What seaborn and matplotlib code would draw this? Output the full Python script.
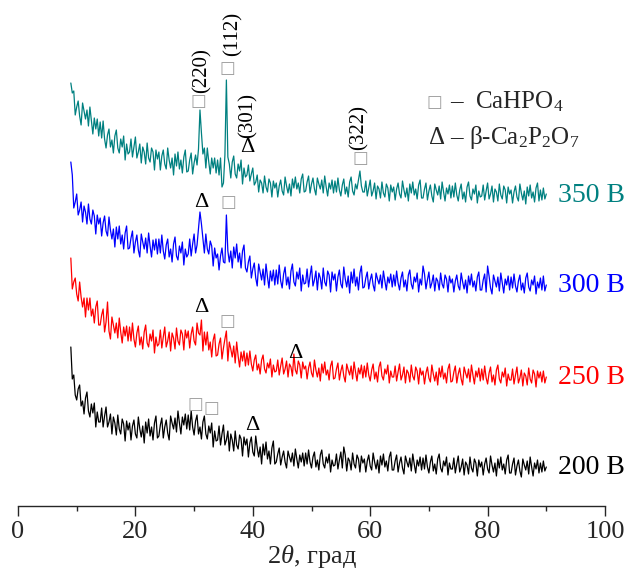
import numpy as np
import pandas as pd
import matplotlib
matplotlib.use("Agg")
import matplotlib.pyplot as plt
import seaborn as sns

# 2theta grid, 0.25 deg step
two_theta = np.arange(9.0, 90.01, 0.25)

# intensities (a.u.), each relative to its own tail
i_200 = [121, 89, 93, 73, 68, 79, 83, 62, 67, 54, 70, 76, 57, 51, 64, 55, 65, 41, 56, 46,
         46, 60, 41, 52, 61, 41, 46, 54, 34, 51, 45, 33, 53, 39, 34, 49, 44, 27, 47, 38,
         45, 28, 42, 48, 34, 30, 51, 39, 31, 42, 25, 46, 35, 49, 32, 41, 28, 45, 52, 30,
         32, 43, 50, 30, 41, 48, 35, 28, 52, 45, 39, 50, 36, 57, 45, 34, 51, 43, 54, 39,
         53, 38, 57, 41, 33, 47, 53, 34, 41, 29, 46, 52, 34, 29, 42, 35, 45, 21, 37, 27,
         28, 42, 23, 34, 43, 23, 28, 37, 17, 34, 28, 17, 37, 23, 19, 33, 29, 12, 31, 23,
         29, 11, 25, 31, 16, 12, 32, 20, 11, 21, 4, 24, 13, 26, 9, 17, 4, 20, 27, 4,
         6, 14, 20, 3, 11, 17, 6, 0, 17, 11, 6, 15, 2, 19, 9, 0, 13, 6, 15, 2,
         15, 4, 18, 6, 0, 11, 16, 1, 8, -2, 13, 18, 4, 0, 11, 5, 14, -4, 8, 2,
         3, 14, -1, 8, 16, 0, 21, 13, -3, 10, 7, -2, 15, 4, 0, 13, 9, -4, 12, 5,
         9, -4, 7, 13, 2, -2, 15, 6, -1, 8, -5, 12, 3, 14, 1, 7, -3, 11, 16, -2,
         -2, 7, 13, -4, 5, 11, 0, -6, 12, 6, 1, 10, -3, 14, 4, -5, 8, 2, 11, -2,
         10, -1, 13, 1, -5, 6, 12, -3, 4, -6, 9, 14, 0, -4, 7, 2, 11, -7, 5, -1,
         -1, 10, -5, 4, 12, -4, 1, 9, -7, 6, 3, -6, 11, 0, -4, 9, 5, -8, 8, 1,
         6, -7, 4, 10, -1, -5, 12, 3, -4, 5, -8, 9, 0, 11, -2, 4, -6, 8, 13, -5,
         -5, 4, 10, -7, 2, 8, -3, -9, 9, 3, -2, 7, -6, 11, 1, -8, 5, -1, 8, -5,
         5, -4, 7, -3, 1]

i_250 = [120, 89, 96, 100, 84, 77, 96, 81, 71, 80, 61, 80, 68, 80, 62, 69, 55, 71, 77, 53,
         53, 63, 69, 46, 56, 76, 47, 39, 61, 53, 45, 55, 40, 60, 46, 35, 51, 42, 52, 37,
         51, 37, 55, 39, 31, 45, 52, 33, 41, 29, 46, 53, 35, 31, 44, 37, 48, 25, 41, 32,
         34, 48, 30, 41, 51, 31, 37, 46, 27, 45, 40, 29, 50, 37, 33, 48, 44, 28, 48, 40,
         47, 30, 44, 51, 37, 33, 55, 45, 43, 58, 27, 46, 33, 46, 28, 36, 21, 38, 44, 22,
         23, 34, 40, 19, 30, 39, 47, 17, 36, 29, 21, 32, 15, 36, 22, 11, 26, 17, 27, 12,
         25, 13, 27, 14, 7, 18, 23, 8, 14, 4, 18, 23, 9, 5, 15, 10, 19, 1, 13, 6,
         7, 18, 3, 12, 20, 4, 9, 17, 1, 14, 11, 2, 24, 8, 4, 17, 13, 0, 16, 9,
         12, -1, 10, 16, 5, 1, 18, 8, 1, 10, -3, 14, 5, 16, 3, 8, -2, 12, 17, -1,
         0, 9, 15, -2, 7, 13, 2, -4, 14, 8, 3, 12, -1, 16, 6, -3, 10, 4, 13, 0,
         12, 1, 15, 3, -3, 8, 14, -1, 6, -4, 11, 16, 2, -2, 9, 4, 13, -5, 7, 1,
         1, 12, -3, 6, 14, -2, 3, 11, -5, 8, 5, -4, 13, 2, -2, 11, 7, -6, 10, 3,
         7, -6, 5, 11, 0, -4, 13, 4, -3, 6, -7, 10, 1, 12, -1, 5, -5, 9, 14, -4,
         -3, 6, 12, -5, 4, 10, -1, -7, 11, 5, 0, 9, -4, 13, 3, -6, 7, 1, 10, -3,
         9, -2, 12, 0, -6, 5, 11, -4, 3, -7, 8, 13, -1, -5, 6, 1, 10, -8, 4, -2,
         -2, 9, -6, 3, 11, -5, 0, 8, -8, 5, 2, -7, 10, -1, -5, 8, 4, -9, 7, 0,
         6, -4, 7, -5, 1]

i_300 = [123, 110, 77, 83, 91, 70, 75, 83, 63, 79, 73, 61, 81, 66, 61, 75, 69, 51, 70, 61,
         67, 49, 62, 69, 54, 49, 68, 55, 46, 56, 38, 58, 46, 59, 41, 50, 36, 52, 59, 36,
         37, 47, 54, 32, 43, 50, 35, 28, 51, 43, 36, 47, 32, 52, 39, 28, 45, 35, 46, 31,
         46, 32, 50, 34, 26, 40, 46, 28, 36, 23, 41, 48, 29, 25, 39, 32, 43, 20, 36, 28,
         31, 46, 29, 41, 51, 32, 40, 56, 73, 61, 46, 32, 51, 36, 31, 44, 39, 19, 37, 27,
         31, 15, 29, 37, 23, 22, 70, 34, 23, 34, 17, 38, 27, 41, 23, 32, 17, 34, 40, 17,
         13, 23, 29, 7, 16, 22, 7, -1, 21, 13, 5, 16, 0, 21, 8, -3, 14, 4, 15, 0,
         15, 1, 20, 4, -3, 11, 18, 0, 8, -4, 14, 21, 3, -1, 13, 6, 17, -6, 10, 1,
         2, 16, -2, 9, 19, -1, 5, 14, -5, 12, 7, -4, 17, 3, -1, 14, 10, -7, 13, 5,
         11, -6, 8, 15, 1, -3, 18, 6, -2, 9, -8, 13, 2, 16, -1, 8, -5, 12, 19, -3,
         -2, 7, 13, -4, 5, 11, 0, -6, 12, 6, 1, 10, -3, 14, 4, -5, 8, 2, 11, -2,
         10, -1, 14, 2, -5, 7, 13, -2, 5, -6, 10, 15, 1, -4, 8, 3, 12, -7, 6, 0,
         19, 11, -4, 5, 13, -3, 2, 10, -6, 7, 4, -5, 12, 1, -3, 10, 6, -7, 9, 2,
         6, -7, 4, 10, -1, -5, 12, 3, -4, 5, -8, 9, 0, 11, -2, 4, -6, 8, 13, -5,
         -5, 5, 11, -7, 19, 9, -3, -9, 10, 4, -2, 8, -6, 12, 2, -8, 6, 0, 9, -5,
         8, -3, 11, -1, -7, 4, 10, -5, 2, -8, 7, 12, -2, -6, 5, 0, 9, -9, 3, -3,
         7, -5, 9, -6, 0]

i_350 = [112, 102, 104, 80, 88, 94, 79, 70, 92, 84, 76, 85, 69, 88, 74, 61, 77, 66, 76, 59,
         73, 57, 74, 56, 47, 60, 66, 48, 55, 42, 59, 65, 47, 42, 56, 48, 59, 35, 51, 41,
         43, 56, 38, 48, 58, 37, 43, 51, 32, 48, 43, 31, 52, 37, 33, 47, 43, 25, 45, 36,
         43, 25, 39, 45, 31, 26, 47, 35, 27, 37, 20, 41, 29, 43, 26, 35, 22, 38, 45, 23,
         24, 35, 42, 21, 32, 40, 30, 46, 85, 62, 41, 47, 27, 47, 33, 21, 37, 27, 37, 22,
         35, 20, 37, 8, 12, 40, 115, 38, 31, 17, 33, 39, 21, 17, 31, 24, 35, 11, 27, 18,
         20, 30, 14, 21, 27, 10, 13, 20, 3, 15, 12, 2, 19, 8, 3, 16, 12, -2, 14, 7,
         12, -2, 9, 15, 4, 0, 18, 9, 2, 11, -1, 16, 7, 18, 6, 12, 2, 16, 21, 3,
         4, 13, 19, 2, 11, 17, 6, 0, 17, 11, 6, 15, 2, 19, 8, -1, 12, 6, 15, 2,
         14, 3, 17, 5, -1, 10, 16, 1, 8, -2, 13, 18, 4, 0, 11, 6, 15, 24, 9, 3,
         3, 14, -1, 7, 15, -1, 4, 12, -4, 9, 6, -3, 13, 2, -2, 11, 7, -6, 10, 3,
         8, -5, 6, 12, 1, -3, 14, 5, -2, 7, -6, 11, 2, 13, 0, 6, -4, 10, 15, -3,
         -3, 6, 12, -5, 4, 10, -1, -7, 11, 5, 0, 9, -4, 13, 3, -6, 7, 1, 10, -3,
         9, -2, 12, 0, -6, 5, 11, -4, 3, -7, 8, 13, -1, -5, 6, 1, 10, -8, 4, -2,
         -1, 10, -5, 4, 12, -4, 1, 9, -7, 6, 3, -6, 11, 0, -4, 9, 5, -8, 8, 1,
         5, -8, 3, 9, -2, -6, 11, 2, -5, 4, -9, 8, -1, 10, -3, 3, -7, 7, 12, -6,
         5, -5, 7, -4, 1]

voltages = ["200 В", "250 В", "300 В", "350 В"]
colors = ["black", "red", "blue", "#008080"]
offsets = [38, 128, 221, 311]

sns.set_style("ticks")
plt.rcParams["font.family"] = ["Liberation Serif", "DejaVu Sans"]
plt.rcParams["mathtext.fontset"] = "custom"
plt.rcParams["mathtext.rm"] = "Liberation Serif"
plt.rcParams["mathtext.it"] = "Liberation Serif:italic"

fig = plt.figure(figsize=(6.32, 5.76), dpi=100)
ax = fig.add_axes([18 / 632, 70 / 576, 587 / 632, 506 / 576])

for vals, lab, c, off in zip([i_200, i_250, i_300, i_350], voltages, colors, offsets):
    df = pd.DataFrame({"2theta": two_theta, "I": np.array(vals) + off})
    sns.lineplot(data=df, x="2theta", y="I", color=c, linewidth=0.9, ax=ax)
    ax.text(92.0, off, lab, color=c, fontsize=20, ha="left", va="center")

ax.set_xlim(0, 100)
ax.set_ylim(0, 506)
ax.set_xticks([0, 20, 40, 60, 80, 100])
ax.set_xticks([10, 30, 50, 70, 90], minor=True)
ax.set_yticks([])
ax.tick_params(axis="x", which="major", direction="out", length=7, width=1, labelsize=19, pad=4)
ax.tick_params(axis="x", which="minor", direction="out", length=3.5, width=1)
sns.despine(ax=ax, left=True)
ax.spines["bottom"].set_linewidth(1)
ax.set_xlabel(r"2$\theta$, град", fontsize=19, labelpad=0)
ax.set_ylabel("")

sq = "□"
gray = "#a0a0a0"
sq_kw = dict(color=gray, fontsize=12, ha="center", va="center", family="DejaVu Sans")
tri_kw = dict(color="black", fontsize=16, ha="center", va="center")
hkl_kw = dict(color="black", fontsize=15, ha="center", va="bottom", rotation=90)

# 350 B
ax.text(30.8, 405, sq, **sq_kw)
ax.text(31.3, 413, "(220)", **hkl_kw)
ax.text(35.6, 438, sq, **sq_kw)
ax.text(36.6, 450, "(112)", **hkl_kw)
ax.text(39.0, 359, "Δ", **tri_kw)
ax.text(39.1, 368, "(301)", **hkl_kw)
ax.text(58.4, 348, sq, **sq_kw)
ax.text(58.1, 356, "(322)", **hkl_kw)
# 300 B
ax.text(31.3, 304, "Δ", **tri_kw)
ax.text(35.8, 304, sq, **sq_kw)
# 250 B
ax.text(31.2, 199, "Δ", **tri_kw)
ax.text(35.6, 185, sq, **sq_kw)
ax.text(47.2, 153, "Δ", **tri_kw)
# 200 B
ax.text(30.3, 102, sq, **sq_kw)
ax.text(32.9, 98, sq, **sq_kw)
ax.text(39.9, 80, "Δ", **tri_kw)

# phase key
ax.text(71.0, 404, sq, **sq_kw)
ax.text(73.6, 404, r"–  CaHPO$_4$", fontsize=18, ha="left", va="center")
ax.text(69.8, 369, r"Δ – β-Ca$_2$P$_2$O$_7$", fontsize=18, ha="left", va="center")

fig.savefig("out.png", dpi=100)
